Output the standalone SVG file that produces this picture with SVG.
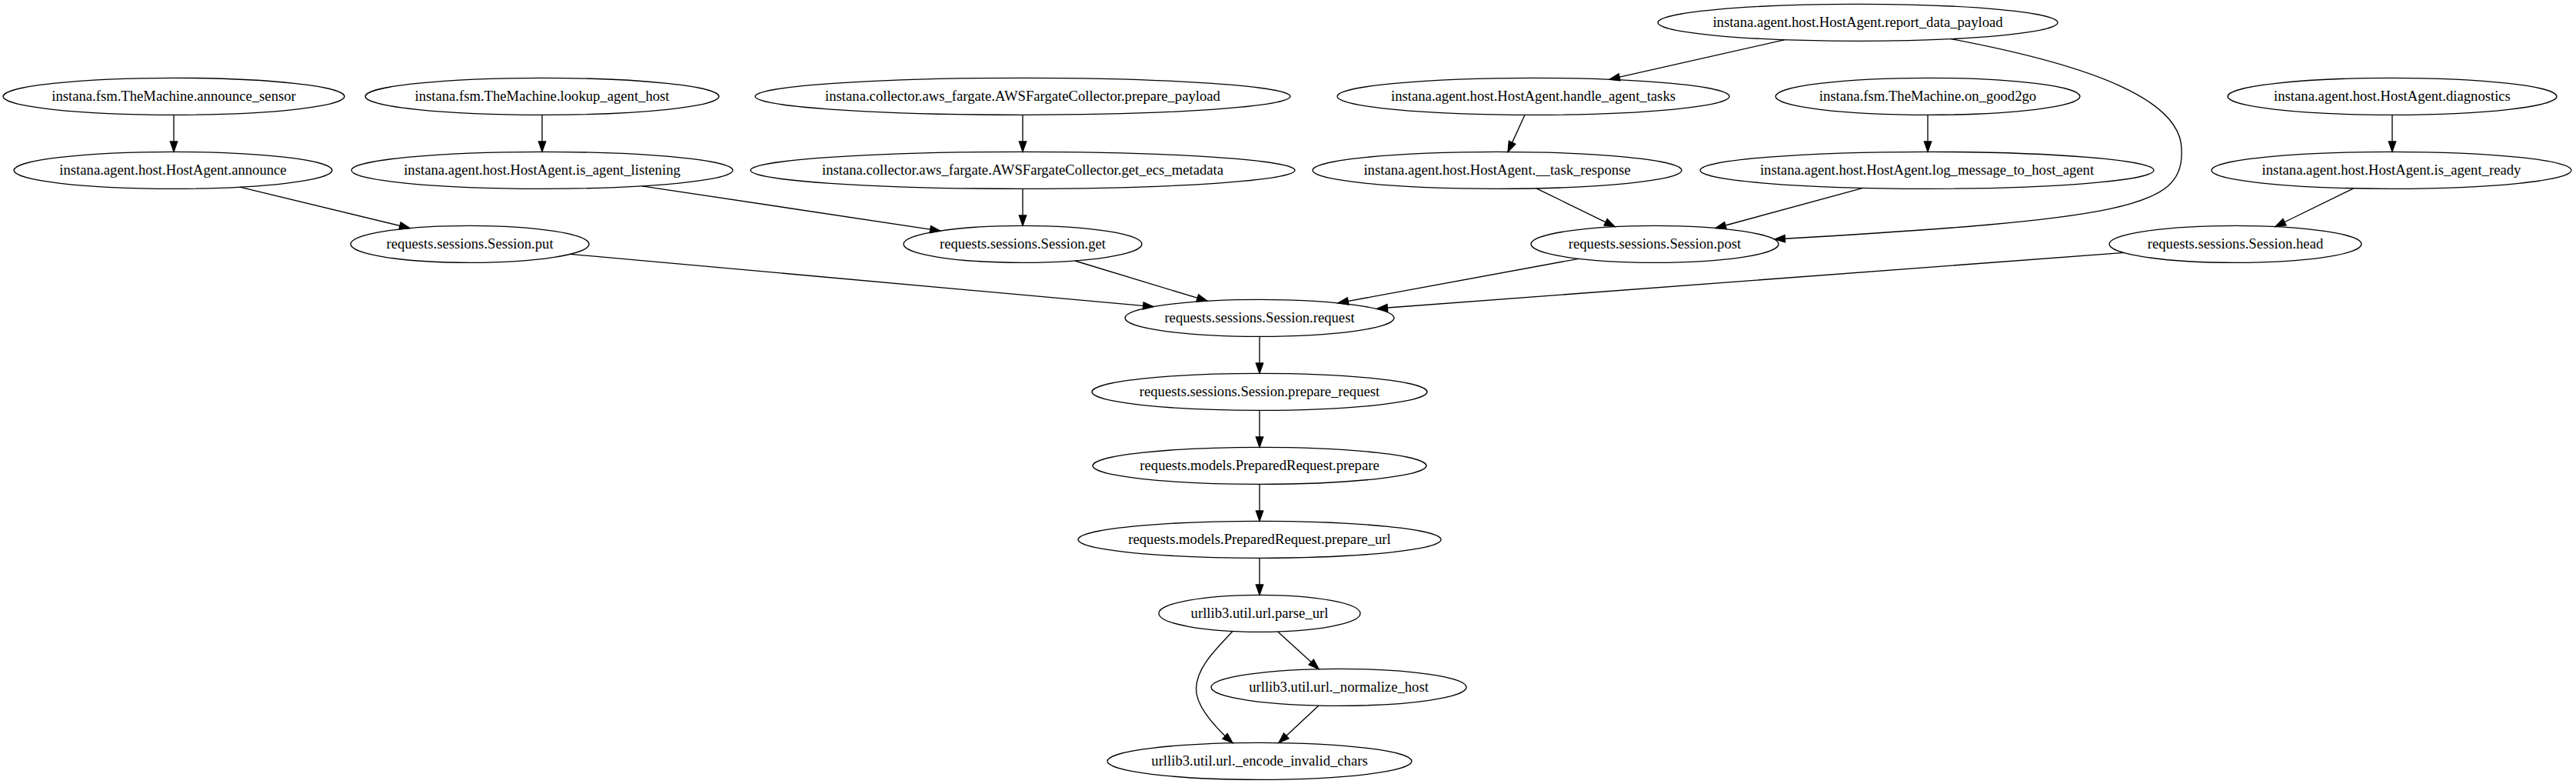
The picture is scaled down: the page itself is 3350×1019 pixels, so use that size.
<svg xmlns="http://www.w3.org/2000/svg" width="3350" height="1019" viewBox="0 0 3350 1019">
<style>
.n ellipse{fill:none;stroke:#000;stroke-width:1.33}
.n text{font-family:"Liberation Serif","Times New Roman",serif;font-size:18.67px;text-anchor:middle;fill:#000}
#edges path{fill:none;stroke:#000;stroke-width:1.33;marker-end:url(#arr)}
</style>
<defs>
<marker id="arr" markerUnits="userSpaceOnUse" viewBox="-1 -1 16 12" refX="13.33" refY="4.67" markerWidth="16" markerHeight="12" orient="auto" overflow="visible">
<path d="M0,0 L13.33,4.67 L0,9.33 Z" fill="#000" stroke="#000" stroke-width="1.33"/>
</marker>
</defs>
<rect width="3350" height="1019" fill="#fff"/>
<g id="edges">
<path d="M2321,51.7 L2093,103.2"/>
<path d="M2537,50.6 C2720,85 2840,130 2837,197 C2840,270 2760,285 2308,311"/>
<path d="M226,149.33 L226,197.33"/>
<path d="M705,149.33 L705,197.33"/>
<path d="M1330,149.33 L1330,197.33"/>
<path d="M1983,149.3 L1961,197.4"/>
<path d="M2507,149.33 L2507,197.33"/>
<path d="M3111,149.33 L3111,197.33"/>
<path d="M312,243.1 L533,296.6"/>
<path d="M835,241.8 L1223,300.1"/>
<path d="M1330,245.33 L1330,293.33"/>
<path d="M1998,244.8 L2100,294.6"/>
<path d="M2422.6,244.4 L2231,296.5"/>
<path d="M3060.7,244.8 L2959,294.5"/>
<path d="M741.5,330.3 L1500,398.6"/>
<path d="M1398,339 L1570,391.2"/>
<path d="M2053,336.3 L1740,393.8"/>
<path d="M2762.5,328.4 L1791,401"/>
<path d="M1638,437.33 L1638,485.33"/>
<path d="M1638,533.33 L1638,581.33"/>
<path d="M1638,629.33 L1638,677.33"/>
<path d="M1638,725.33 L1638,773.33"/>
<path d="M1661.7,820.9 L1715,869.6"/>
<path d="M1603,820.5 C1580,845 1556,868 1555.6,895 C1555,918 1580,945 1603,965.7"/>
<path d="M1715,917 L1663,965.5"/>
</g>
<g id="n_report_data_payload" class="n"><ellipse cx="2416" cy="29.33" rx="260" ry="24"/><text x="2416" y="34.93">instana.agent.host.HostAgent.report_data_payload</text></g>
<g id="n_announce_sensor" class="n"><ellipse cx="226" cy="125.33" rx="222" ry="24"/><text x="226" y="130.93">instana.fsm.TheMachine.announce_sensor</text></g>
<g id="n_lookup_agent_host" class="n"><ellipse cx="705" cy="125.33" rx="230" ry="24"/><text x="705" y="130.93">instana.fsm.TheMachine.lookup_agent_host</text></g>
<g id="n_prepare_payload" class="n"><ellipse cx="1330" cy="125.33" rx="348" ry="24"/><text x="1330" y="130.93">instana.collector.aws_fargate.AWSFargateCollector.prepare_payload</text></g>
<g id="n_handle_agent_tasks" class="n"><ellipse cx="1994" cy="125.33" rx="255" ry="24"/><text x="1994" y="130.93">instana.agent.host.HostAgent.handle_agent_tasks</text></g>
<g id="n_on_good2go" class="n"><ellipse cx="2507" cy="125.33" rx="198" ry="24"/><text x="2507" y="130.93">instana.fsm.TheMachine.on_good2go</text></g>
<g id="n_diagnostics" class="n"><ellipse cx="3111" cy="125.33" rx="214" ry="24"/><text x="3111" y="130.93">instana.agent.host.HostAgent.diagnostics</text></g>
<g id="n_announce" class="n"><ellipse cx="225" cy="221.33" rx="207" ry="24"/><text x="225" y="226.93">instana.agent.host.HostAgent.announce</text></g>
<g id="n_is_agent_listening" class="n"><ellipse cx="705" cy="221.33" rx="248" ry="24"/><text x="705" y="226.93">instana.agent.host.HostAgent.is_agent_listening</text></g>
<g id="n_get_ecs_metadata" class="n"><ellipse cx="1330" cy="221.33" rx="354" ry="24"/><text x="1330" y="226.93">instana.collector.aws_fargate.AWSFargateCollector.get_ecs_metadata</text></g>
<g id="n_task_response" class="n"><ellipse cx="1947" cy="221.33" rx="240" ry="24"/><text x="1947" y="226.93">instana.agent.host.HostAgent.__task_response</text></g>
<g id="n_log_message" class="n"><ellipse cx="2506" cy="221.33" rx="295" ry="24"/><text x="2506" y="226.93">instana.agent.host.HostAgent.log_message_to_host_agent</text></g>
<g id="n_is_agent_ready" class="n"><ellipse cx="3110" cy="221.33" rx="234" ry="24"/><text x="3110" y="226.93">instana.agent.host.HostAgent.is_agent_ready</text></g>
<g id="n_put" class="n"><ellipse cx="611" cy="317.33" rx="155" ry="24"/><text x="611" y="322.93">requests.sessions.Session.put</text></g>
<g id="n_get" class="n"><ellipse cx="1330" cy="317.33" rx="155" ry="24"/><text x="1330" y="322.93">requests.sessions.Session.get</text></g>
<g id="n_post" class="n"><ellipse cx="2152" cy="317.33" rx="161" ry="24"/><text x="2152" y="322.93">requests.sessions.Session.post</text></g>
<g id="n_head" class="n"><ellipse cx="2907" cy="317.33" rx="164" ry="24"/><text x="2907" y="322.93">requests.sessions.Session.head</text></g>
<g id="n_request" class="n"><ellipse cx="1638" cy="413.33" rx="175" ry="24"/><text x="1638" y="418.93">requests.sessions.Session.request</text></g>
<g id="n_prepare_request" class="n"><ellipse cx="1638" cy="509.33" rx="218" ry="24"/><text x="1638" y="514.93">requests.sessions.Session.prepare_request</text></g>
<g id="n_prepare" class="n"><ellipse cx="1638" cy="605.33" rx="217" ry="24"/><text x="1638" y="610.93">requests.models.PreparedRequest.prepare</text></g>
<g id="n_prepare_url" class="n"><ellipse cx="1638" cy="701.33" rx="236" ry="24"/><text x="1638" y="706.93">requests.models.PreparedRequest.prepare_url</text></g>
<g id="n_parse_url" class="n"><ellipse cx="1638" cy="797.33" rx="131" ry="24"/><text x="1638" y="802.93">urllib3.util.url.parse_url</text></g>
<g id="n_normalize_host" class="n"><ellipse cx="1741" cy="893.33" rx="166" ry="24"/><text x="1741" y="898.93">urllib3.util.url._normalize_host</text></g>
<g id="n_encode_invalid_chars" class="n"><ellipse cx="1638" cy="989.33" rx="198" ry="24"/><text x="1638" y="994.93">urllib3.util.url._encode_invalid_chars</text></g>
</svg>
